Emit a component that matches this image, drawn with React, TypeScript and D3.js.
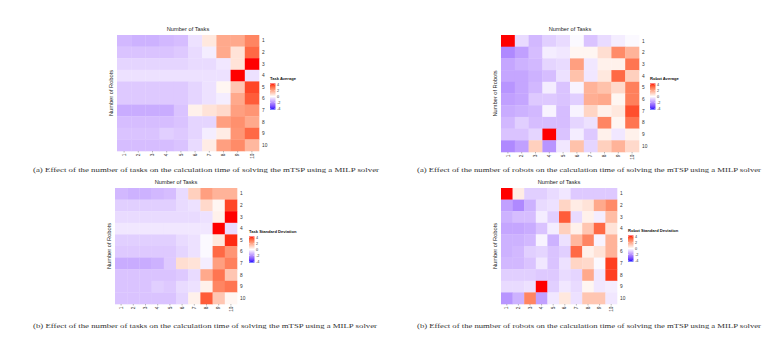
import React from "react";
import * as d3 from "d3";

const tasks = ["1", "2", "3", "4", "5", "6", "7", "8", "9", "10"];
const robots = ["1", "2", "3", "4", "5", "6", "7", "8", "9", "10"];
const legendTicks = [4, 2, 0, -2, -4];

// rows = robots 1..10, columns = tasks 1..10
const taskAverage = [
  [-1.2, -1.3, -1.3, -1.2, -1.1, -0.5, 0.5, 1.8, 1.8, 2.5],
  [-1.0, -1.0, -1.0, -1.0, -0.9, -0.6, -0.3, 1.8, 0.6, 3.0],
  [-0.7, -0.7, -0.7, -0.7, -0.7, -0.6, -0.6, -0.4, 0.6, 4.0],
  [-0.5, -0.5, -0.5, -0.5, -0.5, -0.5, -0.5, -0.5, 4.0, -0.5],
  [-0.9, -0.9, -0.9, -0.9, -0.9, -0.7, -0.5, 0.2, 1.2, 3.5],
  [-0.9, -0.9, -0.9, -0.9, -0.9, -0.7, -0.5, -0.3, 1.8, 3.2],
  [-1.4, -1.4, -1.4, -1.4, -1.0, 0.3, 0.6, 0.8, 2.0, 2.2],
  [-1.1, -1.1, -1.1, -1.1, -1.0, -0.7, -0.7, 2.0, 2.3, 1.8],
  [-1.0, -1.0, -1.0, -0.8, -0.9, -0.7, -0.3, 0.4, 2.2, 3.0],
  [-1.1, -1.1, -1.1, -1.1, -1.0, -0.6, 0.4, 2.0, 2.4, 1.5],
];

const robotAverage = [
  [4.0, -0.6, -1.2, -0.8, -0.6, -0.1, -1.0, -0.6, -0.3, -0.1],
  [-2.0, -1.6, -1.1, -0.3, -0.4, 0.2, 0.2, 0.7, 2.4, 1.6],
  [-1.5, -1.3, -1.2, -0.7, -0.6, 2.0, -0.4, 0.3, 0.3, 2.8],
  [-1.5, -1.5, -1.3, -1.1, -0.5, 1.3, -0.4, 0.5, 3.0, 1.0],
  [-1.8, -1.5, -1.2, -0.3, -1.0, -0.2, 1.6, 1.3, 0.8, 2.6],
  [-1.6, -1.5, -0.9, -0.9, -1.0, -0.8, 1.7, 1.8, 0.2, 2.6],
  [-1.4, -1.3, -1.2, -0.2, -1.1, -0.2, 0.9, 0.3, 0.5, 3.4],
  [-1.2, -0.8, -1.1, -1.1, -1.1, -0.7, -0.5, 2.5, 0.2, 2.8],
  [-1.0, -1.0, -0.7, 4.0, -1.0, -0.3, -0.9, 0.3, -0.4, 0.3],
  [-2.0, -1.6, 1.0, -1.8, -0.4, 1.3, -0.7, 1.0, 1.6, 0.8],
];

const taskSD = [
  [-1.2, -1.3, -1.3, -1.2, -1.1, -0.6, 1.0, 2.0, 1.6, 1.6],
  [-0.8, -0.8, -0.8, -0.8, -0.8, -0.6, -0.5, 0.8, 0.2, 3.5],
  [-0.6, -0.6, -0.6, -0.6, -0.6, -0.6, -0.6, -0.5, 0.3, 4.0],
  [-0.4, -0.4, -0.4, -0.4, -0.4, -0.4, -0.4, -0.4, 4.0, -0.6],
  [-0.8, -0.8, -0.8, -0.8, -0.8, -0.6, -0.5, -0.1, 0.5, 3.8],
  [-0.9, -0.9, -0.9, -0.9, -0.9, -0.7, -0.5, -0.1, 3.0, 2.2],
  [-1.4, -1.4, -1.4, -1.3, -0.9, 0.7, 0.6, -0.3, 2.0, 2.6],
  [-1.0, -1.0, -1.0, -1.0, -1.0, -0.9, -0.6, 1.8, 2.8, 1.2],
  [-1.0, -1.0, -1.0, -0.8, -0.9, -0.6, -0.5, 0.3, 2.5, 2.8],
  [-1.0, -1.0, -1.0, -1.0, -1.0, -0.7, 0.3, 3.2, 1.2, 0.2],
];

const robotSD = [
  [4.0, 0.4, -0.8, -0.8, -0.6, -0.4, -0.9, -0.9, -0.9, -0.9],
  [-1.6, -2.0, -1.3, -0.6, -0.5, 0.9, 0.4, 0.6, 1.8, 2.4],
  [-1.3, -1.1, -1.1, -0.3, -0.8, 3.2, -0.6, 0.3, -0.3, 1.4],
  [-1.5, -1.5, -1.4, -1.0, -0.3, 1.0, 0.3, 1.2, 3.0, 0.6],
  [-1.3, -1.3, -1.2, -0.2, -1.3, -0.5, 1.5, 2.5, -0.2, 1.6],
  [-1.3, -1.2, -0.8, -0.7, -1.0, -0.8, 3.0, 0.3, 0.6, 1.6],
  [-1.2, -1.2, -1.0, -0.4, -1.0, -0.5, 0.9, 0.8, -0.1, 3.6],
  [-0.8, -0.8, -0.8, -0.9, -0.9, -0.6, -0.7, 1.8, -0.4, 3.6],
  [-0.6, -0.6, -0.5, 4.0, -0.8, -0.4, -0.6, 0.2, -0.4, -0.3],
  [-1.8, -1.3, 2.5, -1.6, -0.4, 0.5, -0.5, 1.2, 1.2, -0.4],
];

const captions = [
  "(a) Effect of the number of tasks on the calculation time of solving the mTSP using a MILP solver",
  "(a) Effect of the number of robots on the calculation time of solving the mTSP using a MILP solver",
  "(b) Effect of the number of tasks on the calculation time of solving the mTSP using a MILP solver",
  "(b) Effect of the number of robots on the calculation time of solving the mTSP using a MILP solver",
];

const legendTitles = ["Task Average", "Robot Average", "Task Standard Deviation", "Robot Standard Deviation"];
const datasets = [taskAverage, robotAverage, taskSD, robotSD];

const layouts = [
  { x0: 117, x1: 259, y0: 35, y1: 151, lx: 270, ly: 80, cx: 33, cw: 346, cy: 172 },
  { x0: 501, x1: 639, y0: 35, y1: 152, lx: 650, ly: 80, cx: 417, cw: 344, cy: 172 },
  { x0: 115, x1: 237, y0: 188, y1: 304, lx: 249, ly: 233, cx: 33, cw: 344, cy: 328 },
  { x0: 501, x1: 617, y0: 188, y1: 304, lx: 628, ly: 232, cx: 417, cw: 344, cy: 328 },
];

const color = d3
  .scaleLinear<string>()
  .domain([-4, 0, 4])
  .range(["#0000ff", "#ffffff", "#ff0000"])
  .interpolate(d3.interpolateLab)
  .clamp(true);

const SANS = "'Liberation Sans', Arial, Helvetica, sans-serif";
const SERIF = "'Liberation Serif', 'DejaVu Serif', serif";

function Panel({ idx }: { idx: number }) {
  const L = layouts[idx];
  const data = datasets[idx];
  const x = d3.scaleBand<string>().domain(tasks).range([L.x0, L.x1]);
  const y = d3.scaleBand<string>().domain(robots).range([L.y0, L.y1]);
  const barW = 5.5;
  const barH = 26;
  const barTop = L.ly + 3.5;
  const ly = d3.scaleLinear().domain([4, -4]).range([barTop + 1, barTop + barH - 1]);
  const gradId = `grad${idx}`;
  const stops = d3.range(0, 1.0001, 0.05);
  return (
    <g>
      <defs>
        <linearGradient id={gradId} x1="0" y1="0" x2="0" y2="1">
          {stops.map((t, i) => (
            <stop key={i} offset={t} stopColor={color(4 - 8 * t)} />
          ))}
        </linearGradient>
      </defs>
      {data.map((row, ri) =>
        row.map((v, ci) => (
          <rect
            key={`${ri}-${ci}`}
            x={x(tasks[ci])}
            y={y(robots[ri])}
            width={x.bandwidth() + 0.3}
            height={y.bandwidth() + 0.3}
            fill={color(v)}
          />
        ))
      )}
      <text x={(L.x0 + L.x1) / 2} y={L.y0 - 4} fontSize={5.7} fontFamily={SANS} textAnchor="middle" fill="#222">
        Number of Tasks
      </text>
      <text
        transform={`translate(${L.x0 - 4},${(L.y0 + L.y1) / 2}) rotate(-90)`}
        fontSize={5.7}
        fontFamily={SANS}
        textAnchor="middle"
        fill="#222"
      >
        Number of Robots
      </text>
      {robots.map((r) => (
        <text
          key={r}
          x={L.x1 + 3}
          y={(y(r) as number) + y.bandwidth() / 2}
          dy="0.35em"
          fontSize={4.8}
          fontFamily={SANS}
          fill="#333"
        >
          {r}
        </text>
      ))}
      {tasks.map((t) => (
        <g key={t}>
          <line
            x1={(x(t) as number) + x.bandwidth() / 2}
            x2={(x(t) as number) + x.bandwidth() / 2}
            y1={L.y1}
            y2={L.y1 + 1.5}
            stroke="#555"
            strokeWidth={0.4}
          />
          <text
            transform={`translate(${(x(t) as number) + x.bandwidth() / 2},${L.y1 + 2.5}) rotate(-90)`}
            dy="0.35em"
            fontSize={4.8}
            fontFamily={SANS}
            textAnchor="end"
            fill="#333"
          >
            {t}
          </text>
        </g>
      ))}
      <text x={L.lx} y={L.ly} fontSize={4.1} fontWeight="bold" fontFamily={SANS} fill="#111">
        {legendTitles[idx]}
      </text>
      <rect x={L.lx} y={barTop} width={barW} height={barH} fill={`url(#${gradId})`} />
      {legendTicks.map((t) => (
        <g key={t}>
          <line x1={L.lx} x2={L.lx + 1.2} y1={ly(t)} y2={ly(t)} stroke="#fff" strokeWidth={0.4} />
          <line x1={L.lx + barW - 1.2} x2={L.lx + barW} y1={ly(t)} y2={ly(t)} stroke="#fff" strokeWidth={0.4} />
          <text x={L.lx + barW + 1.5} y={ly(t)} dy="0.35em" fontSize={3.8} fontFamily={SANS} fill="#333">
            {t}
          </text>
        </g>
      ))}
      <text
        x={L.cx}
        y={L.cy}
        fontSize={6.8}
        fontFamily={SERIF}
        fill="#333"
        textLength={L.cw}
        lengthAdjust="spacingAndGlyphs"
      >
        {captions[idx]}
      </text>
    </g>
  );
}

export default function App() {
  return (
    <svg
      width={779}
      height={357}
      style={{ position: "absolute", left: 0, top: 0, background: "#fff" }}
    >
      <rect width={779} height={357} fill="#fff" />
      {[0, 1, 2, 3].map((i) => (
        <Panel key={i} idx={i} />
      ))}
    </svg>
  );
}
